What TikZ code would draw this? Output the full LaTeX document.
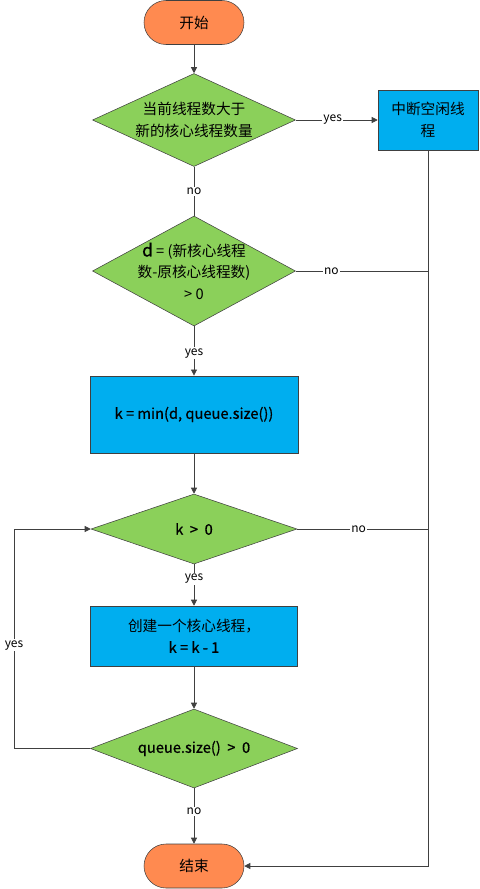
\documentclass[tikz,border=0pt]{standalone}
\usepackage{fontspec}
\setmainfont{Noto Sans CJK SC}
\newfontfamily\semib[FakeBold=0.7]{Noto Sans CJK SC}
\usetikzlibrary{shapes.geometric,arrows.meta}
\definecolor{termc}{HTML}{FF8A50}
\definecolor{decc}{HTML}{8BD05A}
\definecolor{procc}{HTML}{00AEEF}
\definecolor{linec}{HTML}{404040}
\begin{document}
\begin{tikzpicture}[x=0.75pt,y=-0.75pt,
  term/.style={draw=linec,fill=termc,rounded corners=16.5pt,minimum width=75pt,minimum height=33pt,inner sep=0pt,font=\fontsize{11}{13}\selectfont},
  dia/.style={draw=linec,fill=decc,diamond,inner sep=0pt},
  proc/.style={draw=linec,fill=procc,inner sep=0pt,font=\fontsize{11}{16}\selectfont,align=center},
  txt/.style={align=center,font=\fontsize{11}{16}\selectfont},
  lbl/.style={fill=white,inner sep=1pt,font=\fontsize{9}{10}\selectfont},
  conn/.style={draw=linec,line width=0.6pt},
  arr/.style={conn,-{Triangle[length=4.5pt,width=4.5pt]}}]
\useasboundingbox (0,0) rectangle (479,889);
\node[term] (start) at (194,22.5) {开始};
\node[dia,minimum width=152.25pt,minimum height=69.75pt] (d1) at (194,120) {};
\node[txt] (t1) at (d1) {当前线程数大于\\新的核心线程数量};
\node[proc,minimum width=75pt,minimum height=45pt,text width=70pt] (intr) at (428,120) {中断空闲线\\程};
\node[dia,minimum width=152.25pt,minimum height=82.5pt] (d2) at (194,271) {};
\node[txt] (t2) at (d2) {{\semib\fontsize{13}{16}\selectfont d} = (新核心线程\\数-原核心线程数)\\> 0};
\node[proc,minimum width=156pt,minimum height=58pt] (b1) at (194,414.5) {{\semib k = min(d, queue.size())}};
\node[dia,minimum width=154.5pt,minimum height=52.5pt] (d3) at (194,529) {};
\node[txt] (t3) at (d3) {{\semib k \ > \ 0}};
\node[proc,minimum width=155.25pt,minimum height=45pt] (b2) at (194,636) {创建一个核心线程，\\{\semib k = k - 1}};
\node[dia,minimum width=155.25pt,minimum height=59.25pt] (d4) at (194,748.5) {};
\node[txt] (t4) at (d4) {{\semib queue.size() \ > \ 0}};
\node[term] (end) at (194,866) {结束};
\coordinate (r2) at (428,271);
\coordinate (r3) at (428,529);
\coordinate (r4) at (428,866);
\coordinate (l4) at (14,748.5);
\coordinate (l3) at (14,529);
\draw[arr] (start) -- (d1);
\draw[arr] (d1.east) -- node[lbl,pos=0.45]{yes} (intr.west);
\draw[conn] (d1.south) -- node[lbl,pos=0.5]{no} (d2.north);
\draw[conn] (d2.east) -- node[lbl,pos=0.27]{no} (r2);
\draw[arr] (d2.south) -- node[lbl,pos=0.55]{yes} (b1.north);
\draw[arr] (b1.south) -- (d3.north);
\draw[conn] (d3.east) -- node[lbl,pos=0.47]{no} (r3);
\draw[arr] (d3.south) -- node[lbl,pos=0.35]{yes} (b2.north);
\draw[arr] (b2.south) -- (d4.north);
\draw[arr] (d4.west) -- (l4) -- node[lbl,pos=0.47]{yes} (l3) -- (d3.west);
\draw[arr] (d4.south) -- node[lbl,pos=0.42]{no} (end.north);
\draw[arr] (intr.south) -- (r4) -- (end.east);
\end{tikzpicture}
\end{document}
